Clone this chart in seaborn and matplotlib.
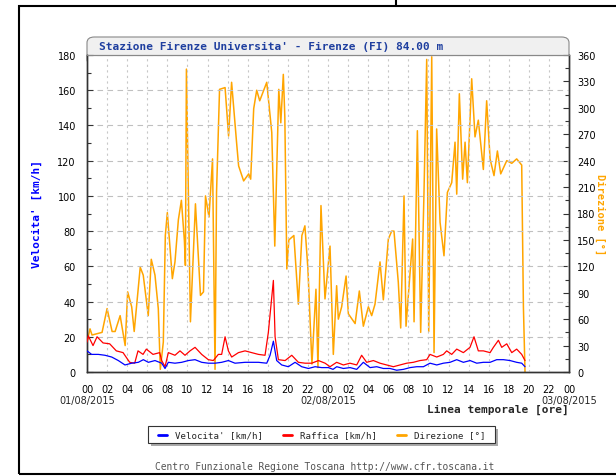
import matplotlib
matplotlib.use("Agg")
import matplotlib.pyplot as plt
import seaborn as sns
from matplotlib.patches import FancyBboxPatch, Rectangle
from matplotlib.lines import Line2D
from matplotlib.ticker import MultipleLocator

# Velocita' (km/h) - hours since 01/08/2015 00:00
vel_t = [0, 0.46, 1.13, 1.79, 2.46, 3.12, 3.78, 4.45, 5.11, 5.61, 6.11, 6.77, 7.44, 7.77, 8.1,
         8.76, 9.43, 10.09, 10.76, 11.42, 12.08, 12.75, 13.41, 14.08, 14.74, 15.74, 17.07, 17.9,
         18.23, 18.56, 18.89, 19.39, 20.05, 20.72, 21.38, 22.05, 22.71, 23.37, 24.04, 24.5,
         24.87, 25.53, 26.2, 26.86, 27.52, 28.19, 28.85, 29.51, 30.18, 30.84, 31.51, 32.17,
         32.84, 33.5, 34.16, 34.83, 35.49, 36.15, 36.82, 37.48, 38.15, 38.81, 39.47, 40.14,
         40.8, 41.47, 42.13, 42.79, 43.29, 43.62]
vel_v = [12, 10, 10, 9.5, 8.5, 6.5, 4, 5, 5.5, 7, 5.5, 6.5, 5, 2, 5.5,
         5, 5.5, 6.5, 7, 5.5, 5, 5, 5.5, 6.5, 5, 5.5, 5.5, 5,
         9.5, 17.5, 6.5, 4, 3, 5.5, 3, 2, 3, 2.5, 2.5, 1.5,
         3, 2, 2.5, 1.5, 5.5, 2.5, 3, 2, 2, 1, 1.5, 2.5,
         3, 3, 5, 4, 5, 5.5, 7, 5.5, 6.5, 5, 5.5, 5.5,
         7, 7, 6.5, 5.5, 5, 3]

# Raffica (km/h)
raf_t = [0, 0.13, 0.6, 1.0, 1.6, 2.26, 2.92, 3.59, 4.25, 4.75, 5.08, 5.58, 5.91, 6.57, 7.24,
         7.44, 7.77, 8.1, 8.76, 9.26, 9.76, 10.26, 10.76, 11.42, 12.08, 12.58, 13.08, 13.41,
         13.75, 14.08, 14.41, 15.08, 15.74, 16.4, 17.07, 17.73, 18.06, 18.56, 18.73, 19.06,
         19.73, 20.39, 21.05, 21.72, 22.38, 23.05, 23.71, 24.2, 24.86, 25.53, 26.19, 26.86,
         27.35, 27.85, 28.52, 29.18, 29.84, 30.51, 31.17, 31.84, 32.5, 33.16, 33.83, 34.16,
         34.83, 35.49, 35.82, 36.32, 36.82, 37.48, 38.14, 38.54, 38.97, 39.47, 40.14, 40.47,
         40.97, 41.3, 41.8, 42.3, 42.79, 43.29, 43.62]
raf_v = [17, 20.5, 15, 20, 16.5, 16, 12, 11, 5.5, 5, 12, 10, 13, 10, 11,
         6.5, 3, 11, 9.5, 12, 9.5, 12, 14, 10, 7, 6.5, 10, 10,
         20, 12, 8.5, 11, 12, 11, 10, 9.5, 22.5, 52, 20, 7,
         6.5, 9.5, 5.5, 5, 5, 6.5, 5, 3, 5.5, 4, 5, 4,
         9.5, 5.5, 6.5, 5, 4, 3, 4, 5, 5.5, 6.5, 7, 10,
         8.5, 10, 12, 10, 13, 11, 14, 20, 12, 12, 11, 14,
         18, 14, 16, 11, 13, 10, 6.5]

# Direzione (gradi)
dir_t = [0, 0.3, 0.5, 1.5, 2.0, 2.5, 2.8, 3.3, 3.8, 4.05, 4.45, 4.7, 5.3, 5.6, 6.1, 6.4, 6.77,
         7.1, 7.3, 7.6, 7.8, 8.0, 8.5, 8.76, 9.1, 9.4, 9.7, 9.8, 9.9, 10.3, 10.8, 11.3, 11.6,
         11.8, 12.15, 12.5, 12.75, 12.9, 13.2, 13.75, 14.1, 14.4, 14.9, 15.1, 15.6, 16.1, 16.3,
         16.6, 16.9, 17.2, 17.9, 18.4, 18.7, 19.1, 19.3, 19.55, 19.7, 19.9, 20.1, 20.6, 21.05,
         21.4, 21.7, 22.0, 22.4, 22.8, 23.0, 23.3, 23.7, 24.2, 24.53, 24.86, 25.03, 25.36, 25.8,
         26.03, 26.7, 27.12, 27.52, 28.02, 28.35, 28.68, 29.18, 29.51, 30.01, 30.34, 30.57,
         31.0, 31.24, 31.57, 31.77, 32.1, 32.43, 32.57, 32.9, 33.23, 33.56, 33.83, 34.03,
         34.33, 34.56, 34.82, 35.16, 35.55, 35.89, 36.32, 36.65, 36.82, 37.08, 37.41, 37.65,
         37.88, 38.31, 38.64, 38.97, 39.47, 39.8, 40.14, 40.53, 40.87, 41.2, 41.8, 42.3,
         42.79, 43.29, 43.46, 43.62]
dir_v = [34, 49, 42, 45, 72, 46, 46, 64, 30, 91, 74, 46, 119, 110, 64, 128, 110,
         72, 3, 34, 155, 181, 106, 125, 173, 195, 149, 121, 344, 57, 191, 87, 91,
         200, 176, 242, 3, 204, 321, 323, 268, 329, 260, 234, 217, 225, 219,
         299, 320, 308, 329, 272, 143, 321, 283, 338, 290, 117, 150, 155, 77,
         155, 166, 117, 9, 94, 5, 189, 83, 143, 20, 98, 60, 74, 109,
         66, 55, 92, 52, 74, 64, 77, 125, 82, 151, 160, 160,
         102, 50, 200, 52, 102, 151, 57, 274, 45, 204, 355, 46,
         358, 22, 276, 170, 132, 204, 215, 261, 202, 316, 219, 261,
         215, 333, 267, 286, 230, 308, 242, 223, 251, 225, 240, 237,
         242, 235, 74, 0]

hour_labels = ["%02d" % (h % 24) for h in range(0, 49, 2)]
date_labels = ["01/08/2015", "02/08/2015", "03/08/2015"]

sns.set_style("white")
plt.rcParams["font.family"] = ["DejaVu Sans"]

fig = plt.figure(figsize=(6.16, 4.77), dpi=100)
W, H = 616, 477

def fx(px):
    return px / W

def fy(py):
    return 1 - py / H

# outer frame
fig.patches.append(Rectangle((fx(19), fy(475)), fx(640) - fx(19), fy(7) - fy(475),
                             transform=fig.transFigure, fill=False, edgecolor="black", lw=1.5))
fig.add_artist(Line2D([fx(396), fx(396)], [fy(0), fy(7)], color="black", lw=1.5))

# title box (lower part hidden behind the axes)
fig.patches.append(FancyBboxPatch((fx(87), fy(66)), fx(569) - fx(87), fy(38) - fy(66),
                                  boxstyle="round,pad=0,rounding_size=0.012",
                                  transform=fig.transFigure, facecolor="#f0f0f0",
                                  edgecolor="#888888", lw=0.8, zorder=-5))
fig.text(fx(99), fy(47), "Stazione Firenze Universita' - Firenze (FI) 84.00 m",
         family="DejaVu Sans Mono", weight="bold", fontsize=8, color="#1f3f9f",
         va="center", ha="left")

ax = fig.add_axes([fx(87), fy(373), fx(569) - fx(87), fy(56) - fy(373)])
ax2 = ax.twinx()

sns.lineplot(x=dir_t, y=dir_v, ax=ax2, color="#ffa500", lw=1.1, zorder=1)
sns.lineplot(x=raf_t, y=raf_v, ax=ax, color="#ff0000", lw=0.9, zorder=3)
sns.lineplot(x=vel_t, y=vel_v, ax=ax, color="#0000ff", lw=0.9, zorder=4)
ax.set_zorder(ax2.get_zorder() + 1)
ax.patch.set_visible(False)
ax2.patch.set_visible(True)
ax2.patch.set_facecolor("white")

ax.set_xlim(0, 48)
ax.set_ylim(0, 180)
ax2.set_ylim(0, 360)

ax.set_xticks(range(0, 49, 2))
ax.set_xticklabels(hour_labels)
ax.xaxis.set_minor_locator(MultipleLocator(1))
ax.yaxis.set_major_locator(MultipleLocator(20))
ax.yaxis.set_minor_locator(MultipleLocator(10))
ax2.yaxis.set_major_locator(MultipleLocator(30))
ax2.yaxis.set_minor_locator(MultipleLocator(15))

ax.tick_params(axis="both", which="major", direction="in", length=4, width=0.8,
               labelsize=7, colors="#333333", labelcolor="black")
ax.tick_params(axis="both", which="minor", direction="in", length=3, width=0.8, colors="#333333")
ax.tick_params(axis="x", pad=9)
ax.tick_params(axis="y", pad=8)
ax2.tick_params(axis="y", which="major", direction="in", length=4, width=0.8,
                labelsize=7, colors="#333333", labelcolor="black", pad=6)
ax2.tick_params(axis="y", which="minor", direction="in", length=3, width=0.8, colors="#333333")

ax.grid(axis="y", which="major", color="#c0c0c0", linestyle=(0, (5, 4)), lw=0.8)
ax.grid(axis="x", which="major", color="#c8c8c8", linestyle=(0, (2, 3)), lw=0.8)
ax.set_axisbelow(True)

for a in (ax, ax2):
    for s in a.spines.values():
        s.set_color("#333333")
        s.set_linewidth(1.0)
    a.spines["top"].set_color("#888888")
    a.spines["top"].set_linewidth(0.8)

ax.set_xlabel("")
ax.set_ylabel("Velocita' [km/h]", family="DejaVu Sans Mono", weight="bold",
              fontsize=8, color="#0000ff", labelpad=11)
ax2.set_ylabel("Direzione [°]", family="DejaVu Sans Mono", weight="bold",
               fontsize=7.5, color="#ffa500", rotation=270, labelpad=7)

for i, lab in enumerate(date_labels):
    fig.text(fx(87 + i * 241), fy(401), lab, fontsize=7, ha="center", va="center")
fig.text(fx(569), fy(410), "Linea temporale [ore]", family="DejaVu Sans Mono",
         weight="bold", fontsize=8, ha="right", va="center")

# legend
lx0, ly0, lx1, ly1 = 148, 427, 495, 444
fig.patches.append(Rectangle((fx(lx0 + 3), fy(ly1 + 3)), fx(lx1) - fx(lx0), fy(ly0) - fy(ly1),
                             transform=fig.transFigure, facecolor="#aaaaaa", edgecolor="none"))
fig.patches.append(Rectangle((fx(lx0), fy(ly1)), fx(lx1) - fx(lx0), fy(ly0) - fy(ly1),
                             transform=fig.transFigure, facecolor="white", edgecolor="#333333", lw=0.8))
entries = [("Velocita' [km/h]", "#0000ff", 158), ("Raffica [km/h]", "#ff0000", 283),
           ("Direzione [°]", "#ffa500", 397)]
for lab, col, x0 in entries:
    fig.add_artist(Line2D([fx(x0), fx(x0 + 9)], [fy(435.5), fy(435.5)], color=col, lw=2))
    fig.text(fx(x0 + 17), fy(435.5), lab, family="DejaVu Sans Mono", fontsize=6.6,
             ha="left", va="center")

fig.text(fx(325), fy(467), "Centro Funzionale Regione Toscana http://www.cfr.toscana.it",
         family="DejaVu Sans Mono", fontsize=6.9, color="#555555", ha="center", va="center")

fig.savefig("out.png", dpi=100)
